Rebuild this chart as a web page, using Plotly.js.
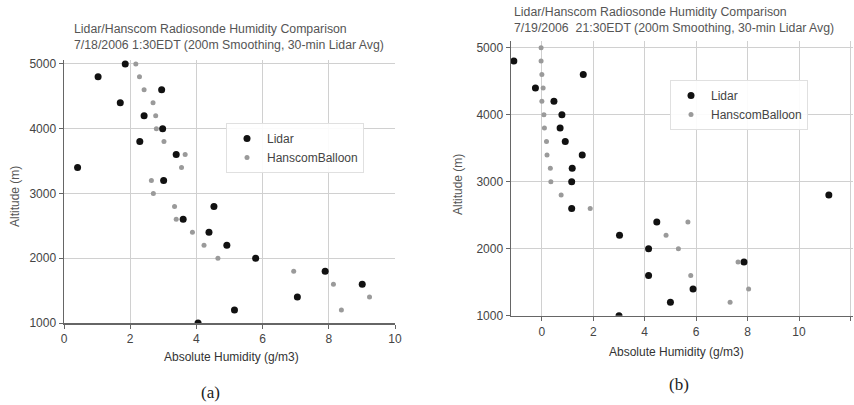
<!DOCTYPE html>
<html>
<head>
<meta charset="utf-8">
<script src="https://cdn.plot.ly/plotly-3.0.1.min.js"></script>
<style>html,body{margin:0;padding:0;background:#fff;}#chart{width:854px;height:405px;}</style>
</head>
<body>
<div id="chart"></div>
<script>
// ---- Data: panel (a) 7/18/2006 ----
const altA_lidar = [5000, 4800, 4600, 4400, 4200, 4000, 3800, 3600, 3400, 3200, 2800, 2600, 2400, 2200, 2000, 1800, 1600, 1400, 1200, 1000];
const humA_lidar = [1.85, 1.03, 2.95, 1.70, 2.42, 2.98, 2.29, 3.39, 0.41, 3.01, 4.53, 3.60, 4.38, 4.92, 5.79, 7.89, 9.01, 7.05, 5.15, 4.05];
const altA_balloon = [5000, 4800, 4600, 4400, 4200, 4000, 3800, 3600, 3400, 3200, 3000, 2800, 2600, 2400, 2200, 2000, 1800, 1600, 1400, 1200];
const humA_balloon = [2.17, 2.28, 2.42, 2.69, 2.77, 2.79, 3.02, 3.66, 3.55, 2.64, 2.70, 3.34, 3.39, 3.88, 4.23, 4.65, 6.94, 8.14, 9.23, 8.38];

// ---- Data: panel (b) 7/19/2006 ----
const altB_lidar = [4800, 4600, 4400, 4200, 4000, 3800, 3600, 3400, 3200, 3000, 2800, 2600, 2400, 2200, 2000, 1800, 1600, 1400, 1200, 1000];
const humB_lidar = [-1.09, 1.61, -0.25, 0.47, 0.78, 0.71, 0.91, 1.57, 1.18, 1.16, 11.16, 1.16, 4.47, 3.02, 4.15, 7.86, 4.15, 5.88, 5.00, 3.00];
const altB_balloon = [5000, 4800, 4600, 4400, 4200, 4000, 3800, 3600, 3400, 3200, 3000, 2800, 2600, 2400, 2200, 2000, 1800, 1600, 1400, 1200];
const humB_balloon = [-0.03, -0.03, 0.00, 0.05, 0.00, 0.08, 0.10, 0.18, 0.20, 0.33, 0.35, 0.75, 1.88, 5.68, 4.83, 5.31, 7.63, 5.79, 8.04, 7.32];

const seriesNames = ["Lidar", "HanscomBalloon"];
const yTicks = [1000, 2000, 3000, 4000, 5000];
const titleA = ["Lidar/Hanscom Radiosonde Humidity Comparison", "7/18/2006 1:30EDT (200m Smoothing, 30-min Lidar Avg)"];
const titleB = ["Lidar/Hanscom Radiosonde Humidity Comparison", "7/19/2006  21:30EDT (200m Smoothing, 30-min Lidar Avg)"];
const xTitle = "Absolute Humidity (g/m3)";
const yTitle = "Altitude (m)";
const captions = ["(a)", "(b)"];

const W = 854, H = 405;
const px = v => v / W;
const py = v => 1 - v / H;
const FONT = "Liberation Sans, Arial, sans-serif";

const lidarMarker = {color: "#111", size: 7};
const balloonMarker = {color: "#9a9a9a", size: 5};

const traces = [
  {x: humA_lidar, y: altA_lidar, name: seriesNames[0], type: "scatter", mode: "markers", marker: lidarMarker, xaxis: "x", yaxis: "y", legend: "legend"},
  {x: humA_balloon, y: altA_balloon, name: seriesNames[1], type: "scatter", mode: "markers", marker: balloonMarker, xaxis: "x", yaxis: "y", legend: "legend"},
  {x: humB_lidar, y: altB_lidar, name: seriesNames[0], type: "scatter", mode: "markers", marker: lidarMarker, xaxis: "x2", yaxis: "y2", legend: "legend2"},
  {x: humB_balloon, y: altB_balloon, name: seriesNames[1], type: "scatter", mode: "markers", marker: balloonMarker, xaxis: "x2", yaxis: "y2", legend: "legend2"}
];

function axis(extra) {
  return Object.assign({
    showline: true, linecolor: "#666", linewidth: 1.5,
    showgrid: true, gridcolor: "#d0d0d0", gridwidth: 1,
    zeroline: false, ticks: "outside", ticklen: 4, tickcolor: "#666",
    tickfont: {family: FONT, size: 12, color: "#444"}
  }, extra);
}

const legendCommon = {
  font: {family: FONT, size: 12, color: "#444"},
  bgcolor: "rgba(255,255,255,0.9)", bordercolor: "#e0e0e0", borderwidth: 1,
  xanchor: "left", yanchor: "top", tracegroupgap: 0, itemwidth: 30
};

const ann = [];
function addText(text, x, y, size, opts) {
  ann.push(Object.assign({text: text, x: px(x), y: py(y), xref: "paper", yref: "paper", showarrow: false,
    xanchor: "left", yanchor: "middle", font: {family: FONT, size: size, color: "#555"}}, opts || {}));
}
addText(titleA[0], 72, 29, 12.3);
addText(titleA[1], 72, 45, 12.3);
addText(titleB[0], 512, 12, 12.3);
addText(titleB[1], 512, 28, 12.3);
addText(xTitle, 231, 357, 12, {xanchor: "center", font: {family: FONT, size: 12, color: "#333"}});
addText(xTitle, 676, 352, 12, {xanchor: "center", font: {family: FONT, size: 12, color: "#333"}});
addText(yTitle, 15, 197, 12, {xanchor: "center", textangle: -90, font: {family: FONT, size: 12, color: "#555"}});
addText(yTitle, 458, 185, 12, {xanchor: "center", textangle: -90, font: {family: FONT, size: 12, color: "#555"}});
addText(captions[0], 210, 392, 17, {xanchor: "center", font: {family: "Liberation Serif, Times New Roman, serif", size: 17, color: "#222"}});
addText(captions[1], 679, 384, 17, {xanchor: "center", font: {family: "Liberation Serif, Times New Roman, serif", size: 17, color: "#222"}});

const layout = {
  width: W, height: H,
  margin: {l: 0, r: 0, t: 0, b: 0},
  paper_bgcolor: "#fff", plot_bgcolor: "#fff",
  showlegend: true,
  xaxis: axis({domain: [px(64), px(395)], range: [0, 10], tickmode: "linear", tick0: 0, dtick: 2, anchor: "y"}),
  yaxis: axis({domain: [py(323), py(60)], range: [1000, 5060], tickmode: "array", tickvals: yTicks, anchor: "x"}),
  xaxis2: axis({domain: [px(511), px(853)], range: [-1.2, 12.1], tickmode: "linear", tick0: 0, dtick: 2, anchor: "y2"}),
  yaxis2: axis({domain: [py(315.7), py(41)], range: [1000, 5100], tickmode: "array", tickvals: yTicks, anchor: "x2"}),
  legend: Object.assign({}, legendCommon, {x: px(226), y: py(123)}),
  legend2: Object.assign({}, legendCommon, {x: px(670), y: py(80)}),
  annotations: ann
};

Plotly.newPlot("chart", traces, layout, {displayModeBar: false, staticPlot: true});
</script>
</body>
</html>
